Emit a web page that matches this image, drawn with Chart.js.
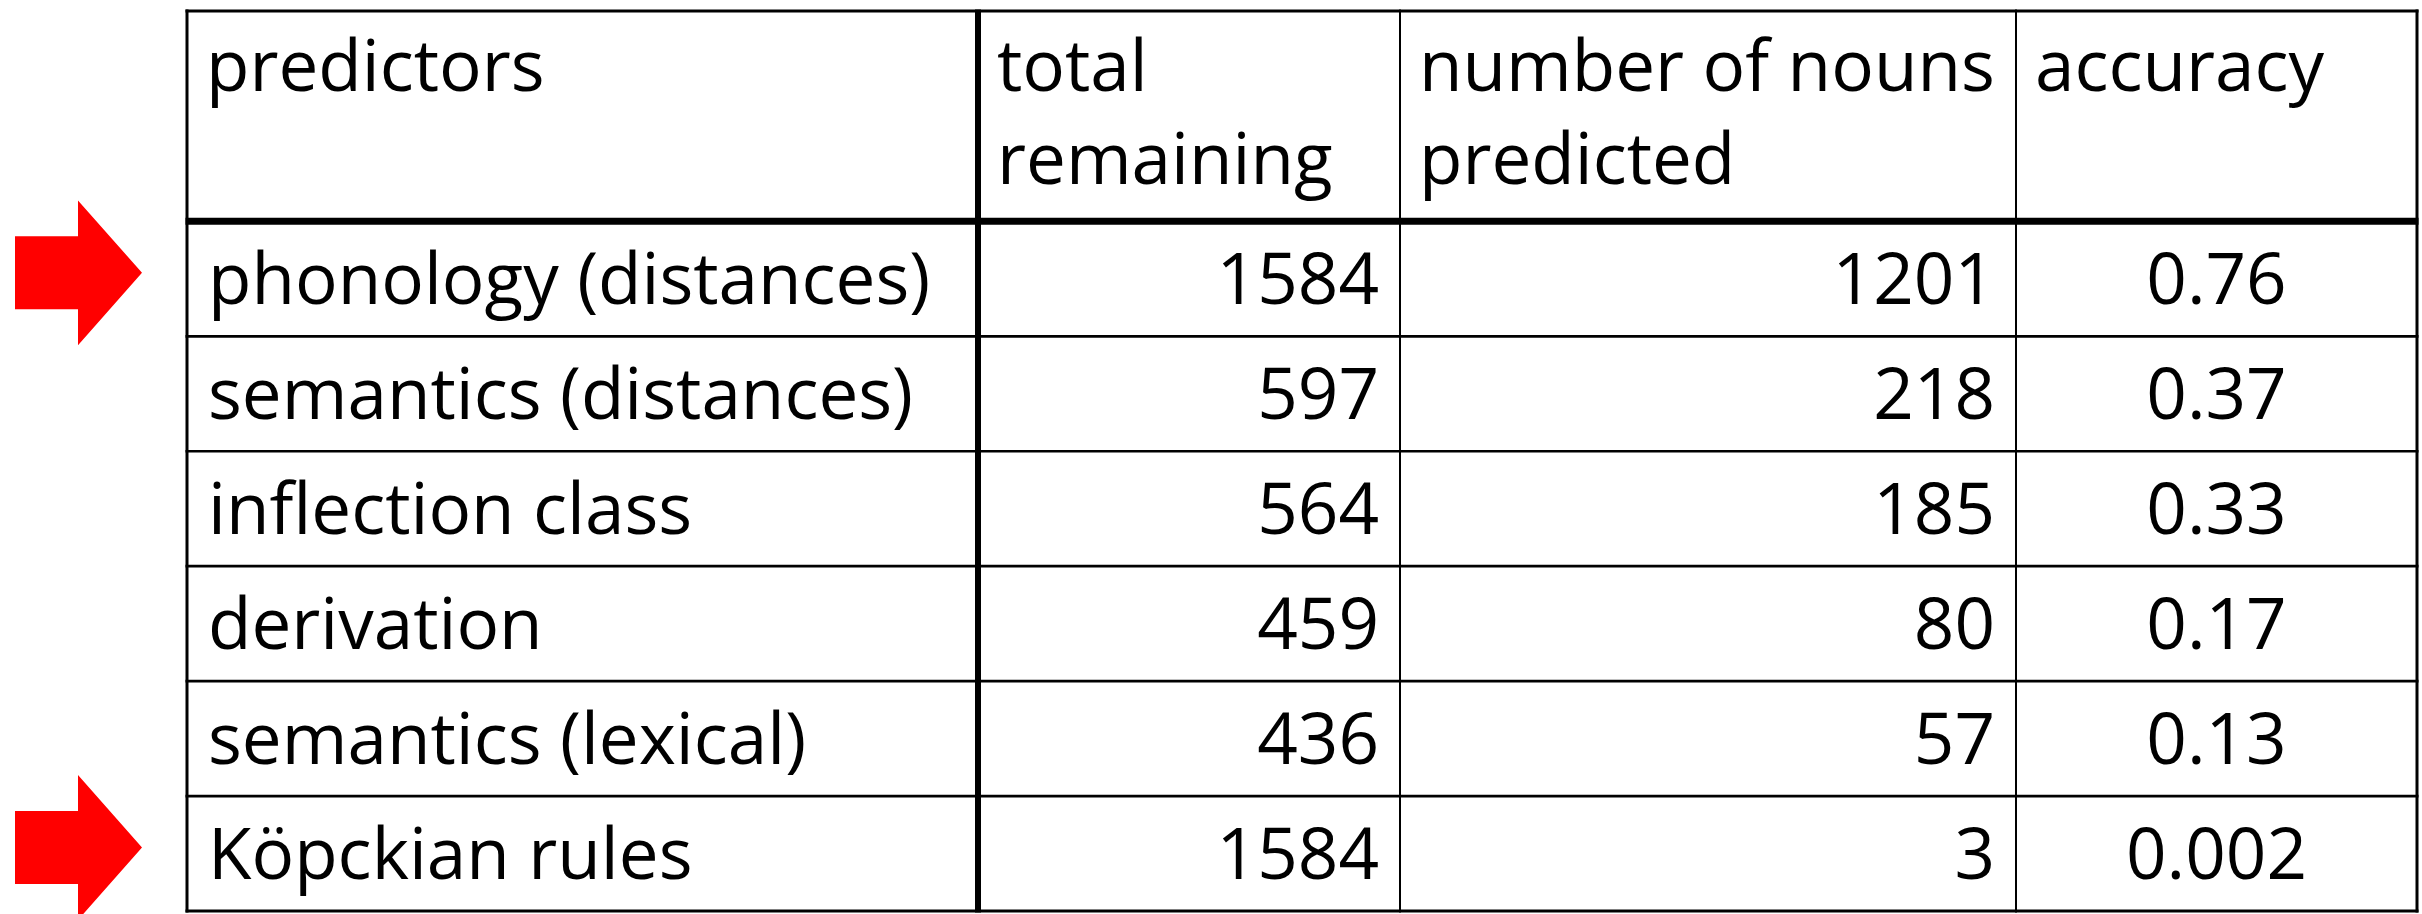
<!DOCTYPE html>
<html>
<head>
<meta charset="utf-8">
<script src="https://cdn.jsdelivr.net/npm/chart.js@4.4.0/dist/chart.umd.min.js"></script>
<style>
    html, body { margin: 0; padding: 0; background: #fff; }
    #wrap { position: relative; width: 2422px; height: 914px; }
</style>
</head>
<body>
<div id="wrap"><canvas id="tableChart"></canvas></div>
<script>
// table data
const headers = [['predictors'], ['total', 'remaining'], ['number of nouns', 'predicted'], ['accuracy']];
const predictors = ['phonology (distances)', 'semantics (distances)', 'inflection class', 'derivation', 'semantics (lexical)', 'Köpckian rules'];
const totalRemaining = [1584, 597, 564, 459, 436, 1584];
const nounsPredicted = [1201, 218, 185, 80, 57, 3];
const accuracy = [0.76, 0.37, 0.33, 0.17, 0.13, 0.002];
const highlighted = ['phonology (distances)', 'Köpckian rules'];

// layout (x units == column widths)
const colWidths = [791, 422, 616, 401];
const colAlign = ['left', 'right', 'right', 'center'];
const colLines = [3, 6, 2, 2, 3];
const headerSpan = 1.83;   // header height in row units
const cellPad = 21;
const FONT = '71px "Open Sans", "Noto Sans", sans-serif';

const colEdges = [0];
colWidths.forEach(w => colEdges.push(colEdges[colEdges.length - 1] + w));

function anchorX(c) {
    if (colAlign[c] === 'left') return colEdges[c] + cellPad;
    if (colAlign[c] === 'right') return colEdges[c + 1] - cellPad;
    return (colEdges[c] + colEdges[c + 1]) / 2;
}

const columnValues = [predictors, totalRemaining, nounsPredicted, accuracy];

const datasets = columnValues.map((vals, c) => ({
    label: headers[c].join(' '),
    data: vals.map((v, i) => ({ x: anchorX(c), y: i + 0.5, text: String(v) })),
    pointRadius: 0,
    showLine: false
}));

const tablePlugin = {
    id: 'tablePlugin',
    afterDatasetsDraw(chart) {
        const ctx = chart.ctx;
        const xs = chart.scales.x;
        const ys = chart.scales.y;
        const rowH = ys.getPixelForValue(1) - ys.getPixelForValue(0);
        ctx.save();
        ctx.fillStyle = '#000';
        ctx.font = FONT;
        ctx.textBaseline = 'alphabetic';

        // header cells
        const top = ys.getPixelForValue(-headerSpan);
        headers.forEach((lines, c) => {
            const x = xs.getPixelForValue(colEdges[c] + cellPad - 2);
            ctx.textAlign = 'left';
            lines.forEach((ln, k) => ctx.fillText(ln, x, top + 80 + k * 93));
        });

        // body cells, placed at the dataset points
        chart.data.datasets.forEach((ds, c) => {
            const meta = chart.getDatasetMeta(c);
            ctx.textAlign = colAlign[c];
            meta.data.forEach((pt, i) => {
                ctx.fillText(ds.data[i].text, pt.x, pt.y + 0.22 * rowH);
            });
        });

        // grid lines
        ctx.strokeStyle = '#000';
        const left = xs.getPixelForValue(0);
        const right = xs.getPixelForValue(colEdges[colEdges.length - 1]);
        const bottom = ys.getPixelForValue(predictors.length);
        const hLine = (v, w) => {
            const y = ys.getPixelForValue(v);
            ctx.lineWidth = w;
            ctx.beginPath(); ctx.moveTo(left - 1.5, y); ctx.lineTo(right + 1.5, y); ctx.stroke();
        };
        hLine(-headerSpan, 3);
        hLine(0, 7);
        for (let i = 1; i < predictors.length; i++) hLine(i, 2.7);
        hLine(predictors.length, 3);
        colEdges.forEach((e, k) => {
            const x = xs.getPixelForValue(e);
            ctx.lineWidth = colLines[k];
            ctx.beginPath(); ctx.moveTo(x, top - 1.5); ctx.lineTo(x, bottom + 1.5); ctx.stroke();
        });

        // red arrows
        ctx.fillStyle = '#ff0000';
        highlighted.forEach(name => {
            const i = predictors.indexOf(name);
            const cy = ys.getPixelForValue(i + 0.5) - 6;
            const tip = left - 45, base = left - 109, tail = left - 172;
            const sh = 0.318 * rowH, hh = 0.63 * rowH;
            ctx.beginPath();
            ctx.moveTo(tail, cy - sh);
            ctx.lineTo(base, cy - sh);
            ctx.lineTo(base, cy - hh);
            ctx.lineTo(tip, cy);
            ctx.lineTo(base, cy + hh);
            ctx.lineTo(base, cy + sh);
            ctx.lineTo(tail, cy + sh);
            ctx.closePath();
            ctx.fill();
        });
        ctx.restore();
    }
};

new Chart(document.getElementById('tableChart'), {
    type: 'scatter',
    data: { datasets },
    options: {
        responsive: true,
        maintainAspectRatio: false,
        animation: false,
        layout: { padding: { left: 187, right: 5, top: 11, bottom: 3 } },
        plugins: { legend: { display: false }, tooltip: { enabled: false } },
        scales: {
            x: { type: 'linear', min: 0, max: colEdges[colEdges.length - 1], display: false },
            y: { type: 'linear', min: -headerSpan, max: predictors.length, reverse: true, display: false }
        }
    },
    plugins: [tablePlugin]
});
</script>
</body>
</html>
